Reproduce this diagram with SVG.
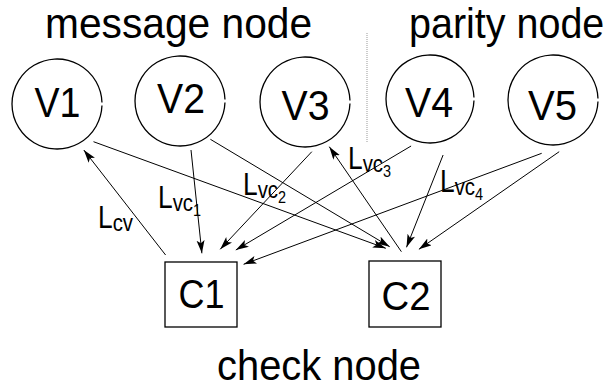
<svg xmlns="http://www.w3.org/2000/svg" width="611" height="390" viewBox="0 0 611 390">
  <defs>
    <marker id="arrow" markerWidth="14" markerHeight="10" refX="13" refY="4" orient="auto" markerUnits="userSpaceOnUse">
      <path d="M0,0 L13,4 L0,8 L3,4 Z" fill="#000"/>
    </marker>
    <style>
      text { font-family: "Liberation Sans", Arial, sans-serif; fill: #000; }
      .title { font-size: 42px; }
      .node-label { font-size: 43px; text-anchor: middle; }
      .vnode { fill: #fff; stroke: #000; stroke-width: 1.3; }
      .cnode { fill: #fff; stroke: #000; stroke-width: 1.3; }
      .edge { stroke: #000; stroke-width: 1; fill: none; marker-end: url(#arrow); }
      .sep { stroke: #999; stroke-width: 1; stroke-dasharray: 1 1; }
      .L { font-size: 31px; }
      .sub { font-size: 24px; }
      .subsub { font-size: 17px; }
    </style>
  </defs>

  <rect width="611" height="390" fill="#fff"/>

  <!-- section titles and divider -->
  <text class="title" transform="translate(45,38) scale(0.97,1)">message node</text>
  <text class="title" transform="translate(409,38) scale(0.94,1)">parity node</text>
  <line class="sep" x1="367" y1="33" x2="367" y2="142"/>
  <text class="title" transform="translate(217,380) scale(0.95,1)">check node</text>

  <!-- variable nodes (circles drawn as arcs with a small opening on the right) -->
  <g id="V1">
    <path class="vnode" d="M101.97,105.6 A45,45 0 1 1 101.97,102.4"/>
    <text class="node-label" x="57.5" y="117" textLength="46" lengthAdjust="spacingAndGlyphs">V1</text>
  </g>
  <g id="V2">
    <path class="vnode" d="M224.97,102.6 A45,45 0 1 1 224.97,99.4"/>
    <text class="node-label" x="181" y="113" textLength="48" lengthAdjust="spacingAndGlyphs">V2</text>
  </g>
  <g id="V3">
    <path class="vnode" d="M349.97,103.6 A45,45 0 1 1 349.97,100.4"/>
    <text class="node-label" x="305.5" y="120" textLength="48" lengthAdjust="spacingAndGlyphs">V3</text>
  </g>
  <g id="V4">
    <path class="vnode" d="M473.97,100.6 A44,44 0 1 1 473.97,97.4"/>
    <text class="node-label" x="429" y="117" textLength="48" lengthAdjust="spacingAndGlyphs">V4</text>
  </g>
  <g id="V5">
    <path class="vnode" d="M597.97,101.6 A45,45 0 1 1 597.97,98.4"/>
    <text class="node-label" x="552.5" y="120" textLength="49" lengthAdjust="spacingAndGlyphs">V5</text>
  </g>

  <!-- check nodes -->
  <g id="C1">
    <rect class="cnode" x="165" y="262" width="72" height="65"/>
    <text class="node-label" x="201.5" y="308" style="font-size:40px" textLength="46" lengthAdjust="spacingAndGlyphs">C1</text>
  </g>
  <g id="C2">
    <rect class="cnode" x="369" y="261" width="72" height="66"/>
    <text class="node-label" x="406" y="310" style="font-size:40px" textLength="49" lengthAdjust="spacingAndGlyphs">C2</text>
  </g>

  <!-- message-passing connectors -->
  <g id="edges">
    <line class="edge" x1="93.5" y1="141.7" x2="385.8" y2="248.3"/>
    <line class="edge" x1="165.6" y1="255" x2="83.8" y2="150"/>
    <line class="edge" x1="191" y1="150" x2="201.9" y2="253.3"/>
    <line class="edge" x1="210.4" y1="139.3" x2="389.7" y2="246.7"/>
    <line class="edge" x1="311.8" y1="151.7" x2="220.2" y2="249.3"/>
    <line class="edge" x1="401.4" y1="251.7" x2="329.3" y2="146.7"/>
    <line class="edge" x1="411.1" y1="146" x2="235.8" y2="250"/>
    <line class="edge" x1="443.1" y1="155" x2="406.5" y2="247.3"/>
    <line class="edge" x1="541.7" y1="153.3" x2="243.6" y2="264.3"/>
    <line class="edge" x1="559.2" y1="151.7" x2="418.9" y2="249.3"/>
  </g>

  <!-- edge labels: L with (nested) subscripts, slightly condensed -->
  <g id="labels">
    <text id="label-cv" transform="translate(98,228) scale(0.85,1)"><tspan class="L">L</tspan><tspan class="sub" dy="3">cv</tspan></text>
    <text id="label-vc1" transform="translate(158,208) scale(0.85,1)"><tspan class="L">L</tspan><tspan class="sub" dy="3">vc</tspan><tspan class="subsub" dy="5">1</tspan></text>
    <text id="label-vc2" transform="translate(243,195) scale(0.85,1)"><tspan class="L">L</tspan><tspan class="sub" dy="3">vc</tspan><tspan class="subsub" dy="5">2</tspan></text>
    <text id="label-vc3" transform="translate(348,169) scale(0.85,1)"><tspan class="L">L</tspan><tspan class="sub" dy="3">vc</tspan><tspan class="subsub" dy="5">3</tspan></text>
    <text id="label-vc4" transform="translate(440,192) scale(0.85,1)"><tspan class="L">L</tspan><tspan class="sub" dy="3">vc</tspan><tspan class="subsub" dy="5">4</tspan></text>
  </g>
</svg>
